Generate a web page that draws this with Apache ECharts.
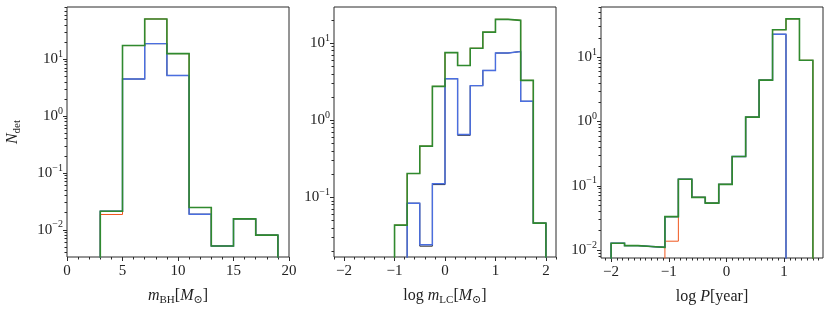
<!DOCTYPE html>
<html><head><meta charset="utf-8">
<script src="https://cdn.jsdelivr.net/npm/echarts@6/dist/echarts.min.js"></script>
<style>html,body{margin:0;padding:0;background:#fff}#c{width:831px;height:311px}</style>
</head><body><div id="c"></div>
<script>
// ---------- data ----------
const edgesBH = [3, 5, 7, 9, 11, 13, 15, 17, 19];
const bhBlack = [0.0212, 4.47, 18.7, 5.16, 0.0188, 0.00519, 0.0156, 0.00807];
const bhRed   = [0.0186, 17.3, 50.8, 12.5, 0.0247, 0.00519, 0.0156, 0.00807];
const bhBlue  = [0.0212, 4.47, 18.7, 5.16, 0.0188, 0.00519, 0.0156, 0.00807];
const bhGreen = [0.0212, 17.3, 50.8, 12.5, 0.0247, 0.00519, 0.0156, 0.00807];

const edgesLC = [-1, -0.75, -0.5, -0.25, 0, 0.25, 0.5, 0.75, 1, 1.25, 1.5, 1.75, 2];
const lcBlack = [0, 0.0836, 0.0232, 0.146, 3.46, 0.638, 2.81, 4.43, 7.45, 7.81, 1.76, 0.0461];
const lcRed   = [0.0435, 0.203, 0.461, 2.75, 7.55, 5.13, 8.6, 13.9, 20.4, 19.8, 3.29, 0.0461];
const lcBlue  = [0, 0.0836, 0.0242, 0.150, 3.46, 0.653, 2.81, 4.43, 7.45, 7.81, 1.76, 0.0461];
const lcGreen = [0.0435, 0.203, 0.461, 2.75, 7.55, 5.13, 8.6, 13.9, 20.4, 19.8, 3.29, 0.0461];

const edgesP = [-2, -1.7667, -1.5333, -1.3, -1.0667, -0.8333, -0.6, -0.3667, -0.1333, 0.1, 0.3333, 0.5667, 0.8, 1.0333, 1.2667, 1.5];
const pBlack = [0.0127, 0.0117, 0.0113, 0.0110, 0.033, 0.126, 0.066, 0.0537, 0.105, 0.285, 1.17, 4.41, 22.8, 0, 0];
const pRed   = [0, 0, 0, 0, 0.0137, 0.126, 0.066, 0.0537, 0.105, 0.285, 1.17, 4.41, 26.9, 39.6, 8.98];
const pBlue  = [0.0127, 0.0117, 0.0113, 0.0110, 0.033, 0.126, 0.066, 0.0537, 0.105, 0.285, 1.17, 4.41, 22.8, 0, 0];
const pGreen = [0.0127, 0.0117, 0.0113, 0.0110, 0.033, 0.126, 0.066, 0.0537, 0.105, 0.285, 1.17, 4.41, 26.9, 39.6, 8.98];

// tick labels
const xTicksBH = [0, 5, 10, 15, 20];
const xTicksLC = [-2, -1, 0, 1, 2];
const xTicksP  = [-2, -1, 0, 1];
const yDecBH = [-2, -1, 0, 1];
const yDecLC = [-1, 0, 1];
const yDecP  = [-2, -1, 0, 1];

// ---------- styling / helpers ----------
const FONT = "'Liberation Serif', 'DejaVu Serif', serif";
const TXT = '#222';
const AX = '#2a2a2a';
const COLORS = {black: '#1c1c1c', red: '#f0561e', blue: '#4a6ee0', green: '#2f8a2f'};
const WIDTHS = {black: 1.0, red: 1.0, blue: 1.4, green: 1.6};
const FLOOR = 1e-5;

function stepPoints(edges, vals) {
  const pts = [[edges[0], FLOOR]];
  vals.forEach((v, i) => {
    const y = v > 0 ? v : FLOOR;
    pts.push([edges[i], y]);
    pts.push([edges[i + 1], y]);
  });
  pts.push([edges[edges.length - 1], FLOOR]);
  return pts;
}
function range(a, b, step) {
  const out = [];
  for (let k = 0; a + k * step <= b + 1e-9; k++) out.push(+(a + k * step).toFixed(6));
  return out;
}
function minorLog(lo, hi) {
  const out = [];
  for (let d = Math.floor(Math.log10(lo)); d <= Math.ceil(Math.log10(hi)); d++) {
    for (let k = 2; k <= 9; k++) {
      const v = k * Math.pow(10, d);
      if (v >= lo && v <= hi) out.push(Math.log10(v));
    }
  }
  return out;
}
const fmtNum = v => (v < 0 ? '\u2212' + Math.abs(v) : String(v));
const fmtDec = v => '{b|10}{s|' + (v < 0 ? '\u2212' : '') + Math.abs(v) + '}';

const NAME_RICH = {
  it: {fontFamily: FONT, fontStyle: 'italic', fontSize: 16, lineHeight: 20, color: TXT},
  rm: {fontFamily: FONT, fontSize: 16, lineHeight: 20, color: TXT},
  sub: {fontFamily: FONT, fontSize: 11, lineHeight: 10, verticalAlign: 'bottom', color: TXT}
};
const LABEL_RICH = {
  b: {fontFamily: FONT, fontSize: 15, lineHeight: 20, color: TXT},
  s: {fontFamily: FONT, fontSize: 10, lineHeight: 10, verticalAlign: 'top', color: TXT}
};

const panels = [
  {left: 67, edges: edgesBH, sets: {black: bhBlack, red: bhRed, blue: bhBlue, green: bhGreen},
   xMin: 0, xMax: 20, xMajor: xTicksBH, xMinor: range(0, 20, 1), yMin: 0.00333, yMax: 82.4, yMajor: yDecBH,
   xName: '{it|m}{sub|BH}{rm|[}{it|M}{sub|\u2299}{rm|]}', yName: '{it|N}{sub|det}'},
  {left: 334, edges: edgesLC, sets: {black: lcBlack, red: lcRed, blue: lcBlue, green: lcGreen},
   xMin: -2.2, xMax: 2.2, xMajor: xTicksLC, xMinor: range(-2.2, 2.2, 0.2), yMin: 0.01676, yMax: 29.5, yMajor: yDecLC,
   xName: '{rm|log }{it|m}{sub|LC}{rm|[}{it|M}{sub|\u2299}{rm|]}', yName: ''},
  {left: 601, edges: edgesP, sets: {black: pBlack, red: pRed, blue: pBlue, green: pGreen},
   xMin: -2.175, xMax: 1.675, xMajor: xTicksP, xMinor: range(-2.1, 1.6, 0.1), yMin: 0.0075, yMax: 60.7, yMajor: yDecP,
   xName: '{rm|log }{it|P}{rm|[year]}', yName: ''}
];

const NOLINE = {show: false, onZero: false};
const grid = [], xAxis = [], yAxis = [], series = [];
panels.forEach((p, i) => {
  grid.push({left: p.left, top: 7, width: 222, height: 251, show: true,
             borderColor: AX, borderWidth: 1, backgroundColor: 'transparent'});
  xAxis.push({type: 'value', gridIndex: i, position: 'bottom', min: p.xMin, max: p.xMax,
    axisLine: NOLINE, splitLine: {show: false},
    axisTick: {show: true, inside: false, length: 4, customValues: p.xMajor, lineStyle: {color: AX, width: 1}},
    axisLabel: {customValues: p.xMajor, formatter: fmtNum, margin: 7, fontFamily: FONT, fontSize: 15, color: TXT},
    name: p.xName, nameLocation: 'middle', nameGap: 29,
    nameTextStyle: {fontFamily: FONT, fontSize: 16, color: TXT, rich: NAME_RICH}});
  xAxis.push({type: 'value', gridIndex: i, position: 'bottom', min: p.xMin, max: p.xMax,
    axisLine: NOLINE, splitLine: {show: false}, axisLabel: {show: false},
    axisTick: {show: true, inside: false, length: 2.5, customValues: p.xMinor, lineStyle: {color: AX, width: 1}}});
  yAxis.push({type: 'log', logBase: 10, gridIndex: i, min: p.yMin, max: p.yMax, show: false,
    axisLine: NOLINE});
  yAxis.push({type: 'value', gridIndex: i, position: 'left', offset: 0,
    min: Math.log10(p.yMin), max: Math.log10(p.yMax),
    axisLine: NOLINE, splitLine: {show: false},
    axisTick: {show: true, inside: false, length: 4, customValues: p.yMajor, lineStyle: {color: AX, width: 1}},
    axisLabel: {customValues: p.yMajor, formatter: fmtDec, margin: 4, rich: LABEL_RICH},
    name: p.yName, nameLocation: 'middle', nameGap: 44, nameRotate: 90,
    nameTextStyle: {fontFamily: FONT, fontSize: 16, color: TXT, rich: NAME_RICH}});
  yAxis.push({type: 'value', gridIndex: i, position: 'left', offset: 0,
    min: Math.log10(p.yMin), max: Math.log10(p.yMax),
    axisLine: NOLINE, splitLine: {show: false}, axisLabel: {show: false},
    axisTick: {show: true, inside: false, length: 2.5, customValues: minorLog(p.yMin, p.yMax), lineStyle: {color: AX, width: 1}}});
  ['black', 'red', 'blue', 'green'].forEach(key => {
    series.push({type: 'line', name: key, xAxisIndex: 2 * i, yAxisIndex: 3 * i,
      data: stepPoints(p.edges, p.sets[key]), symbol: 'none', clip: true, silent: true,
      lineStyle: {color: COLORS[key], width: WIDTHS[key], join: 'miter', cap: 'butt'}});
  });
});

const chart = echarts.init(document.getElementById('c'), null, {renderer: 'canvas'});
chart.setOption({animation: false, backgroundColor: '#fff', grid, xAxis, yAxis, series});
</script>
</body></html>
